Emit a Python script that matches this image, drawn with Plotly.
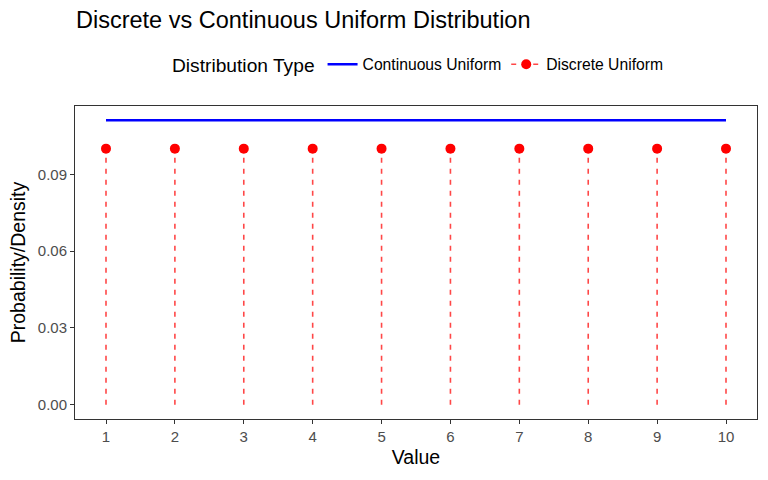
import plotly.graph_objects as go

# Data
values = [1, 2, 3, 4, 5, 6, 7, 8, 9, 10]
discrete_prob = [0.1] * 10
cont_x = [1, 10]
cont_density = [1 / 9, 1 / 9]
y_ticks = [0.00, 0.03, 0.06, 0.09]

FONT = "Liberation Sans, Arial, sans-serif"

# Segment coordinates built from the data
seg_x, seg_y = [], []
for v, p in zip(values, discrete_prob):
    seg_x += [v, v, None]
    seg_y += [0, p, None]

fig = go.Figure()

fig.add_trace(go.Scatter(
    x=cont_x, y=cont_density, mode="lines",
    line=dict(color="#0000FF", width=2.5),
    name="Continuous Uniform", legendrank=1,
))
fig.add_trace(go.Scatter(
    x=seg_x, y=seg_y, mode="lines",
    line=dict(color="rgba(255,0,0,0.72)", width=1.6, dash="5px,6px"),
    showlegend=False, hoverinfo="skip",
))
fig.add_trace(go.Scatter(
    x=values, y=discrete_prob, mode="markers",
    marker=dict(color="#FF0000", size=10),
    showlegend=False,
))
# legend proxy for discrete (point + line)
fig.add_trace(go.Scatter(
    x=[None], y=[None], mode="lines+markers",
    marker=dict(color="#FF0000", size=10),
    line=dict(color="rgba(255,0,0,0.72)", width=1.6, dash="5px,6px"),
    name="Discrete Uniform", legendrank=2,
))

axis_common = dict(
    showgrid=False, zeroline=False, showline=True, mirror=True,
    linecolor="#333333", linewidth=1,
    ticks="outside", ticklen=4, tickwidth=1, tickcolor="#333333",
    tickfont=dict(family=FONT, size=15, color="#4D4D4D"),
    title_font=dict(family=FONT, size=19.5, color="#000000"),
)

fig.update_layout(
    width=768, height=480,
    paper_bgcolor="white", plot_bgcolor="white",
    margin=dict(l=75, r=11, t=106, b=61),
    font=dict(family=FONT),
    title=dict(
        text="Discrete vs Continuous Uniform Distribution",
        font=dict(family=FONT, size=23.5, color="#000000"),
        x=76 / 768, xanchor="left", xref="container",
        y=1 - 20 / 480, yanchor="middle", yref="container",
    ),
    xaxis=dict(
        range=[0.55, 10.45], tickvals=values, ticktext=[str(v) for v in values],
        title=dict(text="Value", standoff=6),
        **axis_common,
    ),
    yaxis=dict(
        range=[-0.1111 * 0.05, 0.1111 * 1.05], tickvals=y_ticks, tickformat=".2f",
        title=dict(text="Probability/Density", standoff=6),
        **axis_common,
    ),
    legend=dict(
        orientation="h",
        title=dict(text="Distribution Type", font=dict(family=FONT, size=19.2, color="#000000")),
        font=dict(family=FONT, size=15.7, color="#000000"),
        x=170 / 768, xanchor="left", xref="container",
        y=1 - 65 / 480, yanchor="middle", yref="container",
        itemwidth=30, tracegroupgap=0,
    ),
)

fig.write_html(
    "out.html",
    config={"displayModeBar": False},
    post_script="document.body.style.margin='0px';",
)
